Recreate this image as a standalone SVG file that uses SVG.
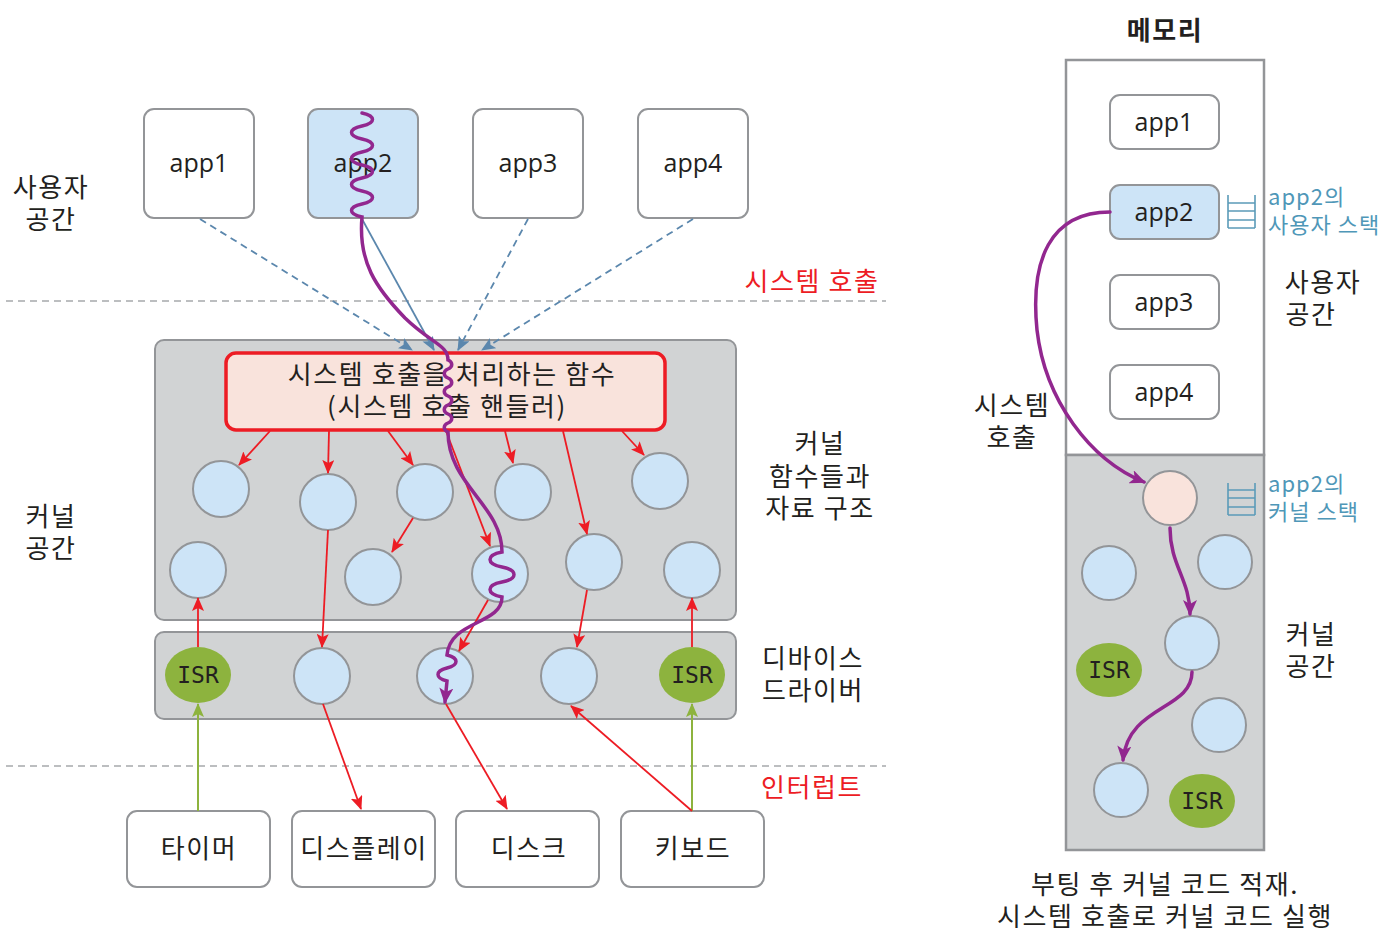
<svg xmlns="http://www.w3.org/2000/svg" width="1393" height="952" viewBox="0 0 1393 952">
<style>
.k{font-family:"Noto Sans CJK KR","Noto Sans",sans-serif;fill:#231f20;font-size:26px;letter-spacing:1.6px;text-anchor:middle}
.app{font-family:"Open Sans","Noto Sans",sans-serif;fill:#231f20;font-size:25px;text-anchor:middle}
.isr{font-family:"DejaVu Sans Mono","Liberation Mono",monospace;fill:#231f20;font-size:23px;text-anchor:middle}
.red{fill:#ed1c24}
.teal{font-family:"Noto Sans CJK KR","Noto Sans",sans-serif;fill:#4f97b8;font-size:22px;letter-spacing:1px}
.box{fill:#fff;stroke:#939598;stroke-width:2}
.appb{fill:#cde4f7;stroke:#939598;stroke-width:2}
.panel{fill:#d1d3d4;stroke:#939598;stroke-width:2}
.c{fill:#cde4f7;stroke:#939598;stroke-width:2}
.g{fill:#8db33e}
.dash{stroke:#a7a9ac;stroke-width:1.5;stroke-dasharray:7 5;fill:none}
.bl{stroke:#5b87ad;stroke-width:1.8;fill:none;marker-end:url(#ab)}
.bd{stroke-dasharray:7 5}
.r{stroke:#ed1c24;stroke-width:1.8;fill:none;marker-end:url(#ar)}
.gr{stroke:#8db33e;stroke-width:2;fill:none;marker-end:url(#ag)}
.p{stroke:#92278f;stroke-width:3.5;fill:none;stroke-linecap:round}
.st{stroke:#5b9bb8;stroke-width:1.6;fill:none}
</style>
<defs>
<marker id="ar" viewBox="0 0 14 12" refX="13" refY="6" markerWidth="14" markerHeight="12" orient="auto" markerUnits="userSpaceOnUse"><path d="M0,0 L14,6 L0,12 L3,6 z" fill="#ed1c24"/></marker>
<marker id="ab" viewBox="0 0 14 12" refX="13" refY="6" markerWidth="14" markerHeight="12" orient="auto" markerUnits="userSpaceOnUse"><path d="M0,0 L14,6 L0,12 L3,6 z" fill="#5b87ad"/></marker>
<marker id="ag" viewBox="0 0 14 12" refX="13" refY="6" markerWidth="14" markerHeight="12" orient="auto" markerUnits="userSpaceOnUse"><path d="M0,0 L14,6 L0,12 L3,6 z" fill="#8db33e"/></marker>
<marker id="ap" viewBox="0 0 16 14" refX="14" refY="7" markerWidth="16" markerHeight="14" orient="auto" markerUnits="userSpaceOnUse"><path d="M0,0 L16,7 L0,14 L4,7 z" fill="#92278f"/></marker>
</defs>

<g id="labels-left">
<text class="k" x="51" y="197">사용자</text>
<text class="k" x="51" y="229">공간</text>
<text class="k" x="51" y="526">커널</text>
<text class="k" x="51" y="558">공간</text>
<text class="k red" x="812" y="291">시스템 호출</text>
<text class="k red" x="812" y="797">인터럽트</text>
<text class="k" x="820" y="453">커널</text>
<text class="k" x="820" y="486">함수들과</text>
<text class="k" x="820" y="518">자료 구조</text>
<text class="k" x="813" y="668">디바이스</text>
<text class="k" x="813" y="700">드라이버</text>
</g>
<g id="dividers">
<line class="dash" x1="6" y1="301" x2="886" y2="301"/>
<line class="dash" x1="6" y1="766" x2="886" y2="766"/>
</g>

<g id="kernel-panel"><rect class="panel" x="155" y="340" width="581" height="280" rx="9"/></g>
<g id="driver-panel"><rect class="panel" x="155" y="632" width="581" height="87" rx="9"/></g>

<g id="app1"><rect class="box" x="144" y="109" width="110" height="109" rx="10"/><text class="app" x="199" y="172">app1</text></g>
<g id="app2"><rect class="appb" x="308" y="109" width="110" height="109" rx="10"/><text class="app" x="363" y="172">app2</text></g>
<g id="app3"><rect class="box" x="473" y="109" width="110" height="109" rx="10"/><text class="app" x="528" y="172">app3</text></g>
<g id="app4"><rect class="box" x="638" y="109" width="110" height="109" rx="10"/><text class="app" x="693" y="172">app4</text></g>

<g id="handler"><rect x="226" y="353" width="439" height="77" rx="10" fill="#f9e3dc" stroke="#ed1c24" stroke-width="3.5"/>
<text class="k" x="452" y="384">시스템 호출을 처리하는 함수</text>
<text class="k" x="447" y="416">(시스템 호출 핸들러)</text></g>

<g id="kernel-nodes">
<circle class="c" cx="221" cy="489" r="28"/>
<circle class="c" cx="328" cy="502" r="28"/>
<circle class="c" cx="425" cy="492" r="28"/>
<circle class="c" cx="523" cy="492" r="28"/>
<circle class="c" cx="660" cy="481" r="28"/>
<circle class="c" cx="198" cy="570" r="28"/>
<circle class="c" cx="373" cy="577" r="28"/>
<circle class="c" cx="500" cy="574" r="28"/>
<circle class="c" cx="594" cy="562" r="28"/>
<circle class="c" cx="692" cy="570" r="28"/>
</g>
<g id="driver-nodes">
<ellipse class="g" cx="198" cy="675" rx="33" ry="28"/><text class="isr" x="198" y="683">ISR</text>
<circle class="c" cx="322" cy="676" r="28"/>
<circle class="c" cx="445" cy="676" r="28"/>
<circle class="c" cx="569" cy="676" r="28"/>
<ellipse class="g" cx="692" cy="675" rx="33" ry="28"/><text class="isr" x="692" y="683">ISR</text>
</g>

<g id="timer"><rect class="box" x="127" y="811" width="143" height="76" rx="10"/><text class="k" x="199" y="858">타이머</text></g>
<g id="display"><rect class="box" x="292" y="811" width="143" height="76" rx="10"/><text class="k" x="364" y="858">디스플레이</text></g>
<g id="disk"><rect class="box" x="456" y="811" width="143" height="76" rx="10"/><text class="k" x="529" y="858">디스크</text></g>
<g id="keyboard"><rect class="box" x="621" y="811" width="143" height="76" rx="10"/><text class="k" x="693" y="858">키보드</text></g>

<g id="connectors">
<line class="bl bd" x1="200" y1="219" x2="412" y2="350"/>
<line class="bl" x1="362" y1="219" x2="434" y2="350"/>
<line class="bl bd" x1="528" y1="219" x2="458" y2="350"/>
<line class="bl bd" x1="693" y1="219" x2="482" y2="350"/>

<line class="r" x1="270" y1="431" x2="239" y2="465"/>
<line class="r" x1="329" y1="431" x2="328" y2="473"/>
<line class="r" x1="388" y1="431" x2="413" y2="465"/>
<line class="r" x1="505" y1="431" x2="513" y2="463"/>
<line class="r" x1="622" y1="431" x2="644" y2="455"/>
<line class="r" x1="446" y1="431" x2="490" y2="546"/>
<line class="r" x1="563" y1="431" x2="587" y2="534"/>
<line class="r" x1="413" y1="518" x2="392" y2="552"/>
<line class="r" x1="328" y1="530" x2="322" y2="647"/>
<line class="r" x1="488" y1="600" x2="459" y2="651"/>
<line class="r" x1="587" y1="590" x2="577" y2="647"/>
<line class="r" x1="198" y1="647" x2="198" y2="598"/>
<line class="r" x1="692" y1="647" x2="692" y2="598"/>

<line class="gr" x1="198" y1="811" x2="198" y2="704"/>
<line class="gr" x1="692" y1="811" x2="692" y2="704"/>

<line class="r" x1="323" y1="704" x2="361" y2="809"/>
<line class="r" x1="446" y1="704" x2="507" y2="809"/>
<line class="r" x1="692" y1="811" x2="571" y2="706"/>

<path class="p" marker-end="url(#ap)" d="M362,113 c 14,3 14,10 0,13 c -14,3 -14,10 0,13 c 14,3 14,10 0,13 c -14,3 -14,10 0,13 c 14,3 14,10 0,13 c -14,3 -14,10 0,13 c 14,3 14,10 0,13 c -14,3 -14,10 0,13
 C 358,262 376,288 405,318 C 432,344 448,345 448,360
 c 5,2 5,7 0,9 c -5,2 -5,7 0,9 c 5,2 5,7 0,9 c -5,2 -5,7 0,9 c 5,2 5,7 0,9 c -5,2 -5,7 0,9 c 5,2 5,7 0,9 c -5,2 -5,7 0,9
 C 448,485 502,505 502,552
 c -16,3 -16,12 0,15 c 16,3 16,12 0,15 c -16,3 -16,12 0,15
 C 502,625 450,620 447,655
 c 12,3 12,10 0,13 c -12,3 -12,10 0,13 L 445,702"/>
</g>

<g id="memory">
<text class="k" x="1165" y="40" font-weight="bold" font-size="25" letter-spacing="1">메모리</text>
<rect x="1066" y="60" width="198" height="395" fill="#fff" stroke="#939598" stroke-width="2.5"/>
<rect x="1066" y="455" width="198" height="395" fill="#d1d3d4" stroke="#939598" stroke-width="2.5"/>
</g>
<g id="m-app1"><rect class="box" x="1110" y="95" width="109" height="54" rx="10"/><text class="app" x="1164" y="131" font-size="24.5">app1</text></g>
<g id="m-app2"><rect class="appb" x="1110" y="185" width="109" height="54" rx="10"/><text class="app" x="1164" y="221" font-size="24.5">app2</text></g>
<g id="m-app3"><rect class="box" x="1110" y="275" width="109" height="54" rx="10"/><text class="app" x="1164" y="311" font-size="24.5">app3</text></g>
<g id="m-app4"><rect class="box" x="1110" y="365" width="109" height="54" rx="10"/><text class="app" x="1164" y="401" font-size="24.5">app4</text></g>

<g id="user-stack">
<path class="st" d="M1228,195 V228 M1255,195 V228 M1228,203 H1255 M1228,211 H1255 M1228,220 H1255 M1228,228 H1255"/>
<text class="teal" x="1268" y="205">app2의</text>
<text class="teal" x="1268" y="233">사용자 스택</text>
</g>
<g id="kernel-stack">
<path class="st" d="M1228,483 V515 M1255,483 V515 M1228,490 H1255 M1228,498 H1255 M1228,507 H1255 M1228,515 H1255"/>
<text class="teal" x="1268" y="492">app2의</text>
<text class="teal" x="1268" y="520">커널 스택</text>
</g>

<g id="labels-right">
<text class="k" x="1323" y="292">사용자</text>
<text class="k" x="1311" y="324">공간</text>
<text class="k" x="1311" y="644">커널</text>
<text class="k" x="1311" y="676">공간</text>
<text class="k" x="1012" y="415">시스템</text>
<text class="k" x="1012" y="447">호출</text>
<text class="k" x="1165" y="894" font-size="27">부팅 후 커널 코드 적재.</text>
<text class="k" x="1165" y="926" font-size="27">시스템 호출로 커널 코드 실행</text>
</g>

<g id="m-kernel-nodes">
<circle cx="1170" cy="498" r="27" fill="#f9e3dc" stroke="#939598" stroke-width="2"/>
<circle class="c" cx="1109" cy="573" r="27"/>
<circle class="c" cx="1225" cy="562" r="27"/>
<circle class="c" cx="1192" cy="643" r="27"/>
<circle class="c" cx="1219" cy="725" r="27"/>
<circle class="c" cx="1121" cy="790" r="27"/>
<ellipse class="g" cx="1109" cy="670" rx="33" ry="27"/><text class="isr" x="1109" y="678">ISR</text>
<ellipse class="g" cx="1202" cy="801" rx="33" ry="27"/><text class="isr" x="1202" y="809">ISR</text>
</g>

<g id="m-connectors">
<path class="p" marker-end="url(#ap)" d="M1110,212 C1050,212 1030,260 1037,330 C1045,400 1090,460 1144,482"/>
<path class="p" marker-end="url(#ap)" d="M1170,528 C1170,565 1190,580 1190,614"/>
<path class="p" marker-end="url(#ap)" d="M1192,672 C1192,710 1128,705 1123,760"/>
</g>
</svg>
